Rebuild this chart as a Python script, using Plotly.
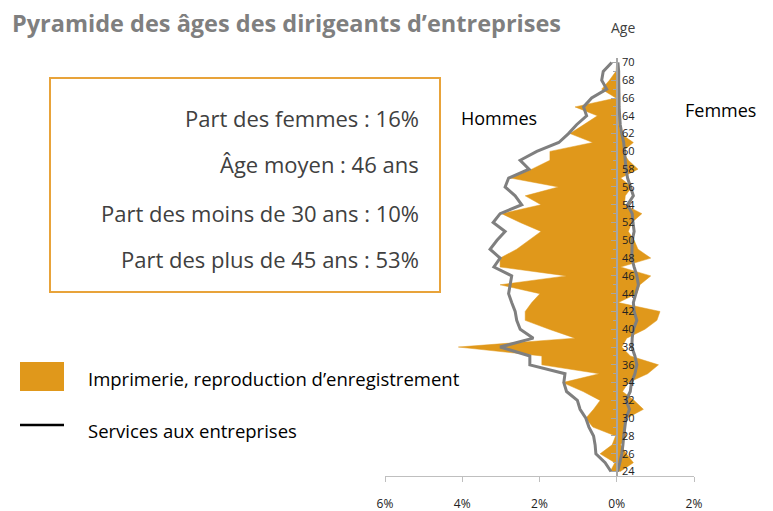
import plotly.graph_objects as go

ages = list(range(70, 23, -1))
hommes_imprimerie = [0, -0.02, -0.19, -0.39, -0.02, -1.08, -0.5, -0.85, -1.21, -0.62,
                     -1.73, -1.73, -2.2, -2.75, -1.51, -2.37, -1.96, -2.98, -2.5, -1.96,
                     -2.29, -2.59, -3.02, -3.02, -1.3, -3.02, -1.99, -2.2, -2.37, -2.37,
                     -1.75, -1.08, -4.1, -1.94, -1.94, -0.45, -1.4, -0.87, -0.43, -0.6,
                     -0.8, -0.62, -0.03, -0.12, -0.43, -0.05, -0.17]
femmes_imprimerie = [0.02, 0.05, 0.05, 0.05, 0.05, 0.05, 0.05, 0.05, 0.1, 0.43,
                     0.15, 0.3, 0.55, 0.1, 0.39, 0.22, 0.2, 0.65, 0.39, 0.3,
                     0.45, 0.55, 0.88, 0.1, 0.88, 0.6, 0.52, 0.04, 1.12, 1.04,
                     0.73, 0.26, 0.13, 0.35, 1.08, 0.8, 0.3, 0.15, 0.45, 0.69,
                     0.26, 0.2, 0.25, 0.1, 0.25, 0.43, 0.09]
hommes_services = [-0.13, -0.35, -0.39, -0.26, -0.65, -0.86, -0.78, -1.04, -1.25, -1.5,
                   -2.07, -2.5, -2.27, -2.8, -2.89, -2.63, -2.46, -3.02, -3.2, -2.89,
                   -3.1, -3.28, -3.02, -3.18, -2.72, -2.76, -2.8, -2.72, -2.63, -2.59,
                   -2.5, -2.16, -3.02, -2.25, -2.25, -1.34, -1.37, -1.3, -1.02, -0.95,
                   -0.8, -0.72, -0.6, -0.56, -0.54, -0.3, -0.15]
femmes_services = [0.03, 0.05, 0.05, 0.06, 0.06, 0.06, 0.08, 0.09, 0.13, 0.18,
                   0.2, 0.22, 0.24, 0.28, 0.35, 0.43, 0.28, 0.4, 0.42, 0.45,
                   0.4, 0.39, 0.39, 0.45, 0.52, 0.56, 0.5, 0.43, 0.45, 0.52,
                   0.43, 0.4, 0.39, 0.47, 0.52, 0.47, 0.38, 0.35, 0.24, 0.33,
                   0.24, 0.2, 0.18, 0.16, 0.13, 0.08, 0.02]

x_tickvals = [-6, -4, -2, 0, 2]
x_ticktext = ["6%", "4%", "2%", "0%", "2%"]
y_tickvals = list(range(24, 71, 2))

encadre = ["Part des femmes : 16%", "Âge moyen : 46 ans",
           "Part des moins de 30 ans : 10%", "Part des plus de 45 ans : 53%"]
titre = "Pyramide des âges des dirigeants d’entreprises"
legende = ["Imprimerie, reproduction d’enregistrement", "Services aux entreprises"]

ORANGE = "#E0981B"
GREY = "#7F7F7F"
FONT = "Open Sans"

OFF = 8  # default page body margin
W, H = 773 - OFF, 511 - OFF
L, R, T, B = 385 - OFF, 694 - OFF, 58 - OFF, 476 - OFF

def px(x):
    return (x - OFF - L) / (R - L)

def py(y):
    return (B - (y - OFF)) / (B - T)

fig = go.Figure()
fig.add_trace(go.Scatter(x=hommes_imprimerie, y=ages, mode="lines", fill="tozerox",
                         fillcolor=ORANGE, line=dict(color=ORANGE, width=0.5),
                         showlegend=False, hoverinfo="skip"))
fig.add_trace(go.Scatter(x=femmes_imprimerie, y=ages, mode="lines", fill="tozerox",
                         fillcolor=ORANGE, line=dict(color=ORANGE, width=0.5),
                         showlegend=False, hoverinfo="skip"))
fig.add_trace(go.Scatter(x=hommes_services, y=ages, mode="lines",
                         line=dict(color=GREY, width=3), showlegend=False))
fig.add_trace(go.Scatter(x=femmes_services, y=ages, mode="lines",
                         line=dict(color=GREY, width=3), showlegend=False))

fig.update_layout(
    width=W, height=H,
    margin=dict(l=L, r=W - R, t=T, b=H - B, autoexpand=False),
    paper_bgcolor="white", plot_bgcolor="white",
    font=dict(family=FONT, color="black"),
    xaxis=dict(range=[-6, 2], tickvals=x_tickvals, ticktext=x_ticktext,
               automargin=False,
               showgrid=False, zeroline=False, showline=True, linecolor="#BFBFBF",
               linewidth=1, ticks="outside", ticklen=5, tickcolor="#BFBFBF",
               tickfont=dict(size=12, family=FONT, color="#222"),
               ticklabelstandoff=12),
    yaxis=dict(range=[23.5, 70.5], anchor="free", position=0.75, side="right",
               automargin=False,
               tickvals=y_tickvals, showgrid=False, zeroline=False,
               showline=True, linecolor="#A6A6A6", linewidth=2,
               ticks="inside", ticklen=5, tickcolor="#A6A6A6",
               minor=dict(dtick=1, ticks="inside", ticklen=3, tickcolor="#A6A6A6"),
               tickfont=dict(size=11, family=FONT, color="#222"),
               ticklabelstandoff=2),
)

ann = []
ann.append(dict(text="<b>" + titre + "</b>", x=px(10), y=py(23), xref="paper", yref="paper",
                xanchor="left", yanchor="middle", showarrow=False,
                font=dict(size=23.5, color="#7F7F7F", family=FONT)))
ann.append(dict(text="Age", x=px(623), y=py(28), xref="paper", yref="paper",
                xanchor="center", yanchor="middle", showarrow=False,
                font=dict(size=14, color="#404040", family=FONT)))
ann.append(dict(text="Hommes", x=px(499), y=py(118), xref="paper", yref="paper",
                xanchor="center", yanchor="middle", showarrow=False,
                font=dict(size=18, color="black", family=FONT)))
ann.append(dict(text="Femmes", x=px(720), y=py(110), xref="paper", yref="paper",
                xanchor="center", yanchor="middle", showarrow=False,
                font=dict(size=18, color="black", family=FONT)))
for txt, yy in zip(encadre, [118, 164, 213, 259]):
    ann.append(dict(text=txt, x=px(421), y=py(yy), xref="paper", yref="paper",
                    xanchor="right", yanchor="middle", showarrow=False,
                    font=dict(size=22, color="#404040", family=FONT)))
for txt, yy in zip(legende, [378, 430]):
    ann.append(dict(text=txt, x=px(86), y=py(yy), xref="paper", yref="paper",
                    xanchor="left", yanchor="middle", showarrow=False,
                    font=dict(size=18.5, color="black", family=FONT)))
fig.update_layout(annotations=ann)

fig.update_layout(shapes=[
    dict(type="rect", xref="paper", yref="paper", x0=px(50), x1=px(440),
         y0=py(292), y1=py(78), line=dict(color="#E8A33A", width=2)),
    dict(type="rect", xref="paper", yref="paper", x0=px(20), x1=px(64),
         y0=py(391), y1=py(362), line=dict(width=0), fillcolor=ORANGE),
    dict(type="line", xref="paper", yref="paper", x0=px(20), x1=px(64),
         y0=py(425), y1=py(425), line=dict(color="black", width=2.5)),
])

fig.write_html("out.html")
